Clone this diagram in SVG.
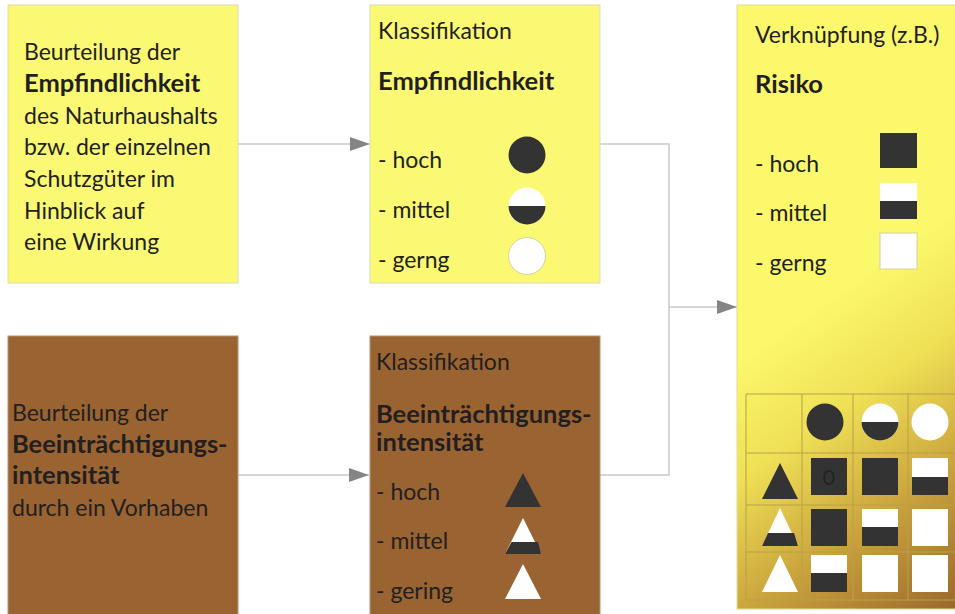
<svg xmlns="http://www.w3.org/2000/svg" width="955" height="614" viewBox="0 0 955 614">
<defs>
<marker id="arr" markerWidth="20" markerHeight="14" refX="20" refY="7" orient="auto" markerUnits="userSpaceOnUse">
<path d="M0,0 L20,7 L0,14 Z" fill="#858585"/>
</marker>
<linearGradient id="gold" gradientUnits="userSpaceOnUse" x1="770" y1="340" x2="955" y2="605">
<stop offset="0" stop-color="#fbf86c"/>
<stop offset="0.3" stop-color="#efe056"/>
<stop offset="0.65" stop-color="#c9a23c"/>
<stop offset="1" stop-color="#9c6a2c"/>
</linearGradient>
</defs>
<style>
.yel{fill:#fbf973;stroke:#dedcb0;stroke-width:1}
.brn{fill:#9a6332;stroke:#b89070;stroke-width:1}
.t{font-family:"Lato","Open Sans","Liberation Sans",sans-serif;font-size:23px;fill:#231f20}
.b{font-weight:bold;font-size:25.5px}
.dk{fill:#333333}
.wh{fill:#ffffff}
.ol{fill:#ffffff;stroke:#d8d0a0;stroke-width:1}
.con{fill:none;stroke:#c8c8c8;stroke-width:1.5}
.grid{fill:none;stroke:#b9a048;stroke-width:1}
</style>
<rect width="955" height="614" fill="#ffffff"/>

<g id="connectors">
<line class="con" x1="238" y1="144" x2="370" y2="144" marker-end="url(#arr)"/>
<line class="con" x1="238" y1="475" x2="369" y2="475" marker-end="url(#arr)"/>
<polyline class="con" points="600,144 669,144 669,475 600,475"/>
<line class="con" x1="669" y1="307" x2="737" y2="307" marker-end="url(#arr)"/>
</g>

<g id="box-empf-beurteilung">
<rect class="yel" x="8" y="5" width="230" height="278"/>
<text class="t" x="24" y="60">Beurteilung der</text>
<text class="t b" x="24" y="92">Empfindlichkeit</text>
<text class="t" x="24" y="124">des Naturhaushalts</text>
<text class="t" x="24" y="155">bzw. der einzelnen</text>
<text class="t" x="24" y="187">Schutzgüter im</text>
<text class="t" x="24" y="219">Hinblick auf</text>
<text class="t" x="24" y="250">eine Wirkung</text>
</g>

<g id="box-beein-beurteilung">
<rect class="brn" x="8" y="336" width="230" height="290"/>
<text class="t" x="12" y="421">Beurteilung der</text>
<text class="t b" x="12" y="453">Beeinträchtigungs-</text>
<text class="t b" x="12" y="484">intensität</text>
<text class="t" x="12" y="516">durch ein Vorhaben</text>
</g>

<g id="box-empf-klass">
<rect class="yel" x="370" y="5" width="230" height="278"/>
<text class="t" x="378" y="39">Klassifikation</text>
<text class="t b" x="378" y="90">Empfindlichkeit</text>
<text class="t" x="378" y="168">- hoch</text>
<text class="t" x="378" y="218">- mittel</text>
<text class="t" x="378" y="268">- gerng</text>
<circle class="dk" cx="527" cy="155" r="18.5"/>
<circle class="wh" cx="527" cy="206" r="18.5"/>
<path class="dk" d="M508.5,206 A18.5,18.5 0 0 0 545.5,206 Z"/>
<circle class="ol" cx="527" cy="256" r="18.5"/>
</g>

<g id="box-beein-klass">
<rect class="brn" x="370" y="336" width="230" height="290"/>
<text class="t" x="376" y="370">Klassifikation</text>
<text class="t b" x="376" y="423">Beeinträchtigungs-</text>
<text class="t b" x="376" y="451">intensität</text>
<text class="t" x="376" y="500">- hoch</text>
<text class="t" x="376" y="549">- mittel</text>
<text class="t" x="376" y="599">- gering</text>
<polygon class="dk" points="523,473 541,507 505,507"/>
<polygon class="wh" points="523,518 541,554 505,554"/>
<polygon class="dk" points="511.5,542 538,542 541,554 505,554"/>
<polygon class="wh" points="523,564 541,599 505,599"/>
</g>

<g id="box-risiko">
<rect x="737" y="5" width="230" height="604" fill="url(#gold)" stroke="#e0dca0" stroke-width="1"/>
<text class="t" x="755" y="43" font-size="24">Verknüpfung (z.B.)</text>
<text class="t b" x="755" y="93">Risiko</text>
<text class="t" x="755" y="172">- hoch</text>
<text class="t" x="755" y="221">- mittel</text>
<text class="t" x="755" y="271">- gerng</text>
<rect class="dk" x="880" y="133" width="37" height="35"/>
<rect class="wh" x="880" y="183" width="37" height="18"/>
<rect class="dk" x="880" y="201" width="37" height="18"/>
<rect class="ol" x="880" y="233" width="37" height="36"/>

<g id="matrix">
<path class="grid" d="M746,394 H960 M746,453 H960 M746,505 H960 M746,552 H960 M746,600 H960 M746,394 V600 M802,394 V600 M853,394 V600 M908,394 V600"/>
<circle class="dk" cx="825" cy="422" r="18.5"/>
<circle class="wh" cx="880" cy="422" r="18.5"/>
<path class="dk" d="M861.5,422 A18.5,18.5 0 0 0 898.5,422 Z"/>
<circle class="wh" cx="930" cy="422" r="18.5"/>

<polygon class="dk" points="780,463 798,499 762,499"/>
<rect class="dk" x="811" y="458" width="36" height="37"/>
<text x="829" y="485" text-anchor="middle" font-family="Lato, 'Liberation Sans', sans-serif" font-size="22" fill="#232323">0</text>
<rect class="dk" x="862" y="458" width="36" height="37"/>
<rect class="wh" x="912" y="458" width="36" height="19"/>
<rect class="dk" x="912" y="477" width="36" height="18"/>

<polygon class="wh" points="780,508 798,546 762,546"/>
<polygon class="dk" points="768,533 794,533 798,546 762,546"/>
<rect class="dk" x="811" y="509" width="36" height="37"/>
<rect class="wh" x="862" y="509" width="36" height="18"/>
<rect class="dk" x="862" y="527" width="36" height="19"/>
<rect class="wh" x="912" y="509" width="36" height="37"/>

<polygon class="wh" points="780,555 798,592 762,592"/>
<rect class="wh" x="811" y="555" width="36" height="18"/>
<rect class="dk" x="811" y="573" width="36" height="19"/>
<rect class="wh" x="862" y="555" width="36" height="37"/>
<rect class="wh" x="912" y="555" width="36" height="37"/>
</g>
</g>
</svg>
